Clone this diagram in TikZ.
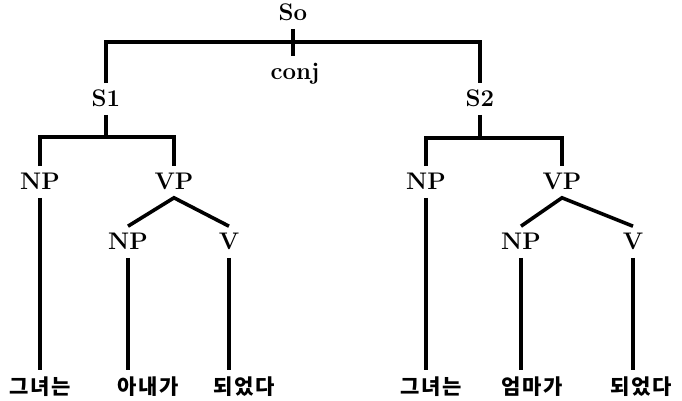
\documentclass[tikz,border=0pt]{standalone}
\usepackage{fontspec}
\newfontfamily\kor[LetterSpace=8]{Noto Sans CJK KR}
\begin{document}
\begin{tikzpicture}[x=0.5pt,y=-0.5pt,line width=1.8pt,
  cat/.style={anchor=base,inner sep=3pt,text height=8pt,text depth=0pt,font=\bfseries\fontsize{12}{14}\selectfont},
  word/.style={anchor=base,inner sep=3pt,text height=8.5pt,text depth=0pt,font=\kor\bfseries\fontsize{10.5}{12}\selectfont}]
\useasboundingbox (0,0) rectangle (682,401);
\node[cat] (so) at (293,21) {So};
\node[cat] (conj) at (295,80) {conj};
\node[cat] (s1) at (106,107) {S1};
\node[cat] (s2) at (480,107) {S2};
\node[cat] (np1) at (40,190) {NP};
\node[cat] (vp1) at (174,190) {VP};
\node[cat] (np2) at (426,190) {NP};
\node[cat] (vp2) at (562,190) {VP};
\node[cat] (np3) at (128,250) {NP};
\node[cat] (v1) at (229,250) {V};
\node[cat] (np4) at (521,250) {NP};
\node[cat] (v2) at (633,250) {V};
\node[word] (w1) at (40,395) {그녀는};
\node[word] (w2) at (148,395) {아내가};
\node[word] (w3) at (244,395) {되었다};
\node[word] (w4) at (431,395) {그녀는};
\node[word] (w5) at (532,395) {엄마가};
\node[word] (w6) at (641,395) {되었다};

\coordinate (soj) at (293,42);
\coordinate (s1j) at (106,137);
\coordinate (s2j) at (480,138);

\draw (so) -- (so |- conj.north);
\draw (s1) |- (soj) -| (s2);
\draw (s1) -- (s1j);
\draw (np1) |- (s1j) -| (vp1);
\draw (s2) -- (s2j);
\draw (np2) |- (s2j) -| (vp2);
\draw (np3.north) -- (vp1.south) -- (v1.north);
\draw (np4.north) -- (vp2.south) -- (v2.north);

\draw (np1) -- (np1 |- w1.north);
\draw (np3) -- (np3 |- w2.north);
\draw (v1) -- (v1 |- w3.north);
\draw (np2) -- (np2 |- w4.north);
\draw (np4) -- (np4 |- w5.north);
\draw (v2) -- (v2 |- w6.north);
\end{tikzpicture}
\end{document}
